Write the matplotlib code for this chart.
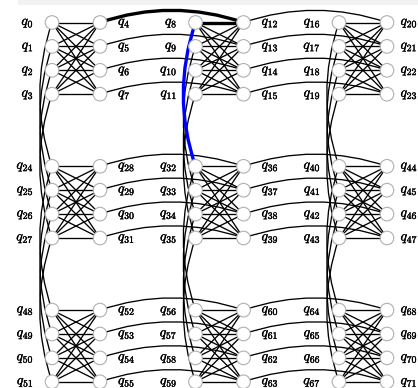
import numpy as np
import matplotlib
matplotlib.use("Agg")
import matplotlib.pyplot as plt
import matplotlib.patheffects as pe
from matplotlib.path import Path
from matplotlib.patches import PathPatch, Circle, Rectangle

plt.rcParams['mathtext.fontset'] = 'cm'

# Chimera graph: 3 x 3 unit cells, each a K4,4 (shore size 4)
n_rows = 3
n_cols = 3
shore = 4

# highlighted couplers
thick_black_edges = [(4, 12), (8, 12)]
blue_edges = [(8, 32)]

# layout (pixels of the 418x388 picture)
W, H = 418, 388
x_left0, x_right0 = 52, 100      # left / right shore columns of the first cell
cell_dx = 143.5
y0, row_dy, cell_dy = 22.5, 23.9, 143.8
node_r = 6.8
rad = 0.17


def qindex(r, c, u, k):
    return (r * n_cols + c) * 2 * shore + u * shore + k


pos = {}
for r in range(n_rows):
    for c in range(n_cols):
        for u in range(2):
            for k in range(shore):
                x = (x_left0 if u == 0 else x_right0) + c * cell_dx
                y = y0 + r * cell_dy + k * row_dy
                pos[qindex(r, c, u, k)] = (x, y)

# edges
intra = []
horiz = []
vert = []
for r in range(n_rows):
    for c in range(n_cols):
        for i in range(shore):
            for j in range(shore):
                intra.append((qindex(r, c, 0, i), qindex(r, c, 1, j)))
            if c + 1 < n_cols:
                horiz.append((qindex(r, c, 1, i), qindex(r, c + 1, 1, i)))
            if r + 1 < n_rows:
                vert.append((qindex(r, c, 0, i), qindex(r + 1, c, 0, i)))


def arc_path(a, b):
    (x1, y1), (x2, y2) = pos[a], pos[b]
    mx, my = (x1 + x2) / 2, (y1 + y2) / 2
    d = np.hypot(x2 - x1, y2 - y1)
    if abs(y2 - y1) < 1e-6:      # horizontal coupler bows upward
        cx, cy = mx, my - rad * d
    else:                         # vertical coupler bows left
        cx, cy = mx - rad * d, my
    return Path([(x1, y1), (cx, cy), (x2, y2)],
                [Path.MOVETO, Path.CURVE3, Path.CURVE3])


fig = plt.figure(figsize=(W / 100, H / 100), dpi=100)
ax = fig.add_axes([0, 0, 1, 1])
ax.set_xlim(0, W)
ax.set_ylim(H, 0)
ax.axis('off')

ax.add_patch(Rectangle((18, 0), W - 18, 5, color='#f2f2f2', lw=0, zorder=0))

special = set(thick_black_edges) | set(blue_edges)

for a, b in intra:
    if (a, b) in special:
        continue
    (x1, y1), (x2, y2) = pos[a], pos[b]
    ax.plot([x1, x2], [y1, y2], color='black', lw=0.95, zorder=1,
            solid_capstyle='butt')

for a, b in horiz + vert:
    if (a, b) in special:
        continue
    ax.add_patch(PathPatch(arc_path(a, b), fc='none', ec='black', lw=0.95, zorder=1))

for a, b in thick_black_edges:
    if (a, b) in horiz or (a, b) in vert:
        ax.add_patch(PathPatch(arc_path(a, b), fc='none', ec='black', lw=2.4, zorder=2))
    else:
        (x1, y1), (x2, y2) = pos[a], pos[b]
        ax.plot([x1, x2], [y1, y2], color='black', lw=2.4, zorder=2)

for a, b in blue_edges:
    ax.add_patch(PathPatch(arc_path(a, b), fc='none', ec='#0000ff', lw=2.4, zorder=3))

bold = [pe.withStroke(linewidth=0.25, foreground='black')]
for q, (x, y) in pos.items():
    ax.add_patch(Circle((x, y), node_r, fc='white', ec='#b0b0b0', lw=0.8, zorder=4))
    u = (q // shore) % 2
    c = (q // (2 * shore)) % n_cols
    if u == 0:
        ax.text(x - 18, y + 0.5, r'$q_{%d}$' % q, ha='right', va='center',
                fontsize=10, zorder=5, path_effects=bold)
    else:
        off = 13.5 if c == n_cols - 1 else 18
        ax.text(x + off, y + 0.5, r'$q_{%d}$' % q, ha='left', va='center',
                fontsize=10, zorder=5, path_effects=bold)

fig.savefig('out.png', dpi=100)
